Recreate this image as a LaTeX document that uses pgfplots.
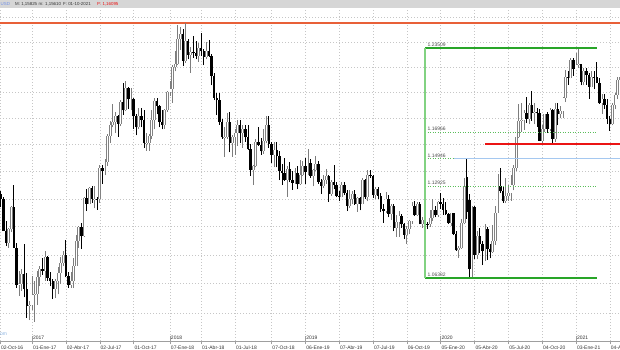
\documentclass[border=0pt]{standalone}
\usepackage{pgfplots}
\pgfplotsset{compat=1.18}
\usepackage{pgfplotstable}
\usepackage{fontspec}
\setmainfont{Liberation Sans}
\newcommand\tf{\fontsize{5}{5}\selectfont}
\newcommand\hf{\fontsize{4.4}{5}\selectfont}
\definecolor{hdr}{RGB}{214,214,214}
\definecolor{orl}{RGB}{232,96,56}
\definecolor{fibv}{RGB}{130,210,130}
\definecolor{fibg}{RGB}{40,165,40}
\definecolor{fibd}{RGB}{90,190,90}
\definecolor{lblue}{RGB}{165,200,240}
\definecolor{pred}{RGB}{235,20,20}
\definecolor{bodyup}{RGB}{130,130,130}
\definecolor{wickup}{RGB}{125,125,125}
\definecolor{wm}{RGB}{140,180,225}

\pgfplotstableread{
k o h l c
4 1.0885 1.0990 1.0850 1.0980
5 1.0980 1.1145 1.0960 1.1140
8 1.0590 1.0690 1.0518 1.0595
9 1.0595 1.0700 1.0550 1.0665
12 1.0450 1.0480 1.0352 1.0455
13 1.0455 1.0650 1.0420 1.0520
14 1.0520 1.0615 1.0340 1.0530
15 1.0530 1.0685 1.0455 1.0645
16 1.0645 1.0720 1.0580 1.0700
18 1.0690 1.0829 1.0620 1.0785
22 1.0560 1.0630 1.0500 1.0620
23 1.0620 1.0715 1.0525 1.0670
24 1.0670 1.0782 1.0600 1.0740
25 1.0740 1.0829 1.0725 1.0800
28 1.0590 1.0680 1.0570 1.0615
29 1.0615 1.0780 1.0570 1.0725
30 1.0725 1.0937 1.0720 1.0895
31 1.0895 1.1000 1.0850 1.0995
33 1.0930 1.1215 1.0925 1.1205
35 1.1165 1.1285 1.1160 1.1280
37 1.1195 1.1296 1.1130 1.1200
39 1.1195 1.1445 1.1170 1.1425
41 1.1400 1.1490 1.1370 1.1470
42 1.1470 1.1683 1.1440 1.1665
43 1.1665 1.1777 1.1612 1.1750
44 1.1750 1.1910 1.1730 1.1775
45 1.1775 1.1845 1.1688 1.1820
47 1.1760 1.1940 1.1740 1.1925
49 1.1860 1.2092 1.1855 1.2035
51 1.1945 1.2035 1.1860 1.1950
54 1.1730 1.1880 1.1715 1.1820
57 1.1610 1.1690 1.1555 1.1615
58 1.1615 1.1680 1.1555 1.1665
59 1.1665 1.1860 1.1640 1.1790
60 1.1790 1.1960 1.1715 1.1930
64 1.1750 1.1870 1.1720 1.1860
65 1.1860 1.2010 1.1850 1.2005
66 1.2005 1.2088 1.1975 1.2030
67 1.2030 1.2219 1.1916 1.2200
68 1.2200 1.2323 1.2165 1.2225
69 1.2225 1.2537 1.2215 1.2425
70 1.2425 1.2520 1.2335 1.2465
72 1.2250 1.2555 1.2235 1.2405
74 1.2295 1.2355 1.2154 1.2315
77 1.2290 1.2388 1.2240 1.2350
80 1.2280 1.2397 1.2260 1.2330
87 1.1655 1.1730 1.1510 1.1660
88 1.1660 1.1840 1.1645 1.1770
90 1.1610 1.1675 1.1509 1.1655
91 1.1655 1.1720 1.1525 1.1685
92 1.1685 1.1790 1.1590 1.1745
94 1.1685 1.1750 1.1575 1.1720
98 1.1410 1.1445 1.1301 1.1440
99 1.1440 1.1640 1.1430 1.1620
102 1.1550 1.1721 1.1530 1.1625
103 1.1625 1.1815 1.1610 1.1745
106 1.1525 1.1620 1.1430 1.1560
111 1.1335 1.1440 1.1216 1.1420
114 1.1315 1.1425 1.1310 1.1385
116 1.1305 1.1486 1.1300 1.1370
117 1.1370 1.1475 1.1365 1.1440
119 1.1395 1.1570 1.1370 1.1465
121 1.1365 1.1420 1.1290 1.1410
122 1.1410 1.1514 1.1405 1.1455
125 1.1295 1.1371 1.1275 1.1335
126 1.1335 1.1419 1.1310 1.1365
128 1.1235 1.1340 1.1220 1.1325
132 1.1215 1.1324 1.1210 1.1300
135 1.1150 1.1265 1.1135 1.1200
136 1.1200 1.1255 1.1160 1.1235
138 1.1160 1.1215 1.1105 1.1205
140 1.1165 1.1348 1.1160 1.1335
142 1.1210 1.1412 1.1181 1.1370
145 1.1225 1.1286 1.1200 1.1270
149 1.1110 1.1250 1.1100 1.1200
151 1.1090 1.1160 1.1050 1.1145
153 1.0990 1.1085 1.0926 1.1030
154 1.1030 1.1109 1.0927 1.1075
157 1.0940 1.1000 1.0879 1.0980
158 1.0980 1.1045 1.0945 1.1040
159 1.1040 1.1179 1.1020 1.1145
161 1.1080 1.1175 1.1075 1.1165
163 1.1020 1.1065 1.0989 1.1050
166 1.1015 1.1116 1.0995 1.1060
167 1.1060 1.1200 1.1040 1.1120
169 1.1080 1.1185 1.1070 1.1175
174 1.1025 1.1097 1.1005 1.1095
177 1.0830 1.0865 1.0778 1.0845
178 1.0845 1.1053 1.0840 1.1025
179 1.1025 1.1355 1.1015 1.1285
182 1.0700 1.1147 1.0635 1.1140
184 1.0800 1.0968 1.0770 1.0935
187 1.0825 1.1019 1.0755 1.0985
190 1.0820 1.1008 1.0815 1.0900
191 1.0900 1.1147 1.0870 1.1100
192 1.1100 1.1384 1.1095 1.1290
195 1.1180 1.1349 1.1168 1.1220
196 1.1220 1.1300 1.1185 1.1245
197 1.1245 1.1375 1.1185 1.1300
198 1.1300 1.1450 1.1260 1.1425
199 1.1425 1.1660 1.1400 1.1655
200 1.1655 1.1909 1.1650 1.1780
201 1.1780 1.1916 1.1696 1.1785
202 1.1785 1.1865 1.1710 1.1840
204 1.1795 1.1920 1.1755 1.1905
206 1.1840 1.1915 1.1753 1.1845
209 1.1630 1.1750 1.1612 1.1715
210 1.1715 1.1833 1.1695 1.1830
212 1.1715 1.1881 1.1700 1.1860
214 1.1645 1.1920 1.1622 1.1875
216 1.1830 1.1895 1.1800 1.1855
217 1.1855 1.1965 1.1800 1.1960
218 1.1960 1.2177 1.1925 1.2120
220 1.2115 1.2273 1.2110 1.2255
222 1.2185 1.2310 1.2180 1.2215
223 1.2215 1.2349 1.2195 1.2220
225 1.2080 1.2190 1.2055 1.2170
228 1.2045 1.2170 1.2040 1.2120
232 1.1915 1.1990 1.1835 1.1950
236 1.1760 1.1915 1.1745 1.1900
237 1.1900 1.1995 1.1870 1.1980
238 1.1980 1.2117 1.1945 1.2095
239 1.2095 1.2150 1.2055 1.2120
}\upc

\pgfplotstableread{
k o h l c
1 1.1235 1.1255 1.1137 1.1200
2 1.1200 1.1210 1.0968 1.0970
3 1.0970 1.1040 1.0860 1.0885
6 1.1140 1.1300 1.0850 1.0850
7 1.0850 1.0880 1.0570 1.0590
10 1.0665 1.0874 1.0505 1.0560
11 1.0560 1.0670 1.0366 1.0450
17 1.0700 1.0775 1.0660 1.0690
19 1.0785 1.0790 1.0620 1.0640
20 1.0640 1.0680 1.0580 1.0615
21 1.0615 1.0630 1.0494 1.0560
26 1.0800 1.0906 1.0645 1.0650
27 1.0650 1.0680 1.0570 1.0590
32 1.0995 1.1023 1.0840 1.0930
34 1.1205 1.1268 1.1110 1.1165
36 1.1280 1.1296 1.1170 1.1195
38 1.1200 1.1215 1.1120 1.1195
40 1.1425 1.1445 1.1310 1.1400
46 1.1820 1.1825 1.1660 1.1760
48 1.1925 1.2070 1.1825 1.1860
50 1.2035 1.2040 1.1870 1.1945
52 1.1950 1.1960 1.1717 1.1815
53 1.1815 1.1830 1.1669 1.1730
55 1.1820 1.1880 1.1730 1.1785
56 1.1785 1.1860 1.1575 1.1610
61 1.1930 1.1960 1.1830 1.1895
62 1.1895 1.1900 1.1730 1.1770
63 1.1770 1.1862 1.1715 1.1750
71 1.2465 1.2505 1.2206 1.2250
73 1.2405 1.2425 1.2260 1.2295
75 1.2315 1.2445 1.2270 1.2310
76 1.2310 1.2410 1.2260 1.2290
78 1.2350 1.2475 1.2285 1.2325
79 1.2325 1.2345 1.2215 1.2280
81 1.2330 1.2413 1.2280 1.2290
82 1.2290 1.2300 1.2055 1.2130
83 1.2130 1.2150 1.1940 1.1960
84 1.1960 1.1995 1.1823 1.1940
85 1.1940 1.1995 1.1750 1.1770
86 1.1770 1.1795 1.1645 1.1655
89 1.1770 1.1852 1.1541 1.1610
93 1.1745 1.1790 1.1610 1.1685
95 1.1720 1.1750 1.1620 1.1655
96 1.1655 1.1745 1.1560 1.1565
97 1.1565 1.1605 1.1365 1.1410
100 1.1620 1.1734 1.1590 1.1600
101 1.1600 1.1650 1.1525 1.1550
104 1.1745 1.1815 1.1575 1.1605
105 1.1605 1.1620 1.1463 1.1525
107 1.1560 1.1621 1.1430 1.1515
108 1.1515 1.1550 1.1336 1.1400
109 1.1400 1.1456 1.1302 1.1390
110 1.1390 1.1500 1.1330 1.1335
112 1.1420 1.1472 1.1320 1.1340
113 1.1340 1.1401 1.1267 1.1315
115 1.1385 1.1442 1.1269 1.1305
118 1.1440 1.1498 1.1309 1.1395
120 1.1465 1.1490 1.1355 1.1365
123 1.1455 1.1475 1.1310 1.1325
124 1.1325 1.1342 1.1234 1.1295
127 1.1365 1.1375 1.1176 1.1235
129 1.1325 1.1448 1.1270 1.1300
130 1.1300 1.1325 1.1210 1.1220
131 1.1220 1.1255 1.1183 1.1215
133 1.1300 1.1324 1.1225 1.1245
134 1.1245 1.1265 1.1110 1.1150
137 1.1235 1.1265 1.1155 1.1160
139 1.1205 1.1215 1.1115 1.1165
141 1.1335 1.1345 1.1200 1.1210
143 1.1370 1.1412 1.1355 1.1365
144 1.1365 1.1375 1.1205 1.1225
146 1.1270 1.1286 1.1200 1.1220
147 1.1220 1.1240 1.1101 1.1125
148 1.1125 1.1165 1.1027 1.1110
150 1.1200 1.1230 1.1065 1.1090
152 1.1145 1.1165 1.0965 1.0990
155 1.1075 1.1090 1.0990 1.1015
156 1.1015 1.1025 1.0910 1.0940
160 1.1145 1.1180 1.1075 1.1080
162 1.1165 1.1175 1.1015 1.1020
164 1.1050 1.1097 1.1000 1.1020
165 1.1020 1.1030 1.0981 1.1015
168 1.1120 1.1145 1.1065 1.1080
170 1.1175 1.1239 1.1125 1.1165
171 1.1165 1.1205 1.1085 1.1120
172 1.1120 1.1173 1.1085 1.1090
173 1.1090 1.1100 1.1018 1.1025
175 1.1095 1.1100 1.0940 1.0945
176 1.0945 1.0965 1.0827 1.0830
180 1.1360 1.1495 1.1055 1.1105
181 1.1190 1.1237 1.0636 1.0700
183 1.1140 1.1147 1.0770 1.0800
185 1.0935 1.0990 1.0812 1.0875
186 1.0875 1.0895 1.0727 1.0825
188 1.0985 1.0995 1.0766 1.0840
189 1.0840 1.0875 1.0775 1.0820
193 1.1290 1.1422 1.1240 1.1255
194 1.1255 1.1295 1.1170 1.1180
203 1.1840 1.1966 1.1765 1.1795
205 1.1905 1.2011 1.1780 1.1840
207 1.1845 1.1882 1.1737 1.1838
208 1.1840 1.1870 1.1627 1.1630
211 1.1830 1.1845 1.1689 1.1715
213 1.1860 1.1870 1.1603 1.1645
215 1.1875 1.1920 1.1745 1.1830
219 1.2120 1.2167 1.2058 1.2115
221 1.2255 1.2270 1.2130 1.2185
224 1.2220 1.2225 1.2055 1.2080
226 1.2170 1.2190 1.2060 1.2140
227 1.2140 1.2150 1.1952 1.2045
229 1.2120 1.2170 1.2023 1.2118
230 1.2118 1.2243 1.2070 1.2075
231 1.2075 1.2115 1.1910 1.1915
233 1.1950 1.1990 1.1875 1.1905
234 1.1905 1.1945 1.1760 1.1795
235 1.1795 1.1815 1.1704 1.1760
}\dnc

\pgfplotsset{
  candle/.style n args={2}{draw=none, mark=none, forget plot,
    error bars/.cd, y dir=plus, y explicit, error mark=none,
    error bar style={draw=#1, solid, line cap=butt, line width=#2}},
}

\begin{document}
\begin{tikzpicture}
\useasboundingbox (0,0) rectangle (620bp,350bp);
\fill[hdr] (0,341.5bp) rectangle (620bp,350bp);
\begin{axis}[
  at={(0,9bp)}, anchor=south west,
  scale only axis, width=620bp, height=331bp,
  xmin=0.69, xmax=238.9,
  ymode=log, ymin=1.02121, ymax=1.26591,
  separate axis lines,
  axis x line*=bottom, axis y line*=left,
  x axis line style={draw=gray!75, line width=0.5bp, -},
  y axis line style={draw=none},
  ytick={1.04,1.06,1.08,1.10,1.12,1.14,1.16,1.18,1.20,1.22,1.24,1.26},
  yticklabels={},
  ytick style={draw=none},
  ymajorgrids, xmajorgrids,
  grid style={gray!45, line width=0.4bp, dash pattern=on 1bp off 2bp},
  xtick={0.7,13,26,39,52,66,78,91,105,118,131,144,157,170,183,196,209,222,235},
  xticklabels={02-Oct-16,01-Ene-17,02-Abr-17,02-Jul-17,01-Oct-17,07-Ene-18,01-Abr-18,01-Jul-18,07-Oct-18,06-Ene-19,07-Abr-19,07-Jul-19,06-Oct-19,05-Ene-20,05-Abr-20,05-Jul-20,04-Oct-20,03-Ene-21,04-Abr-21},
  tick align=outside,
  major tick length=3.5bp,
  xtick style={draw=gray!75, line width=0.4bp},
  x tick label style={font=\tf, text=black!80, anchor=north west, inner sep=0pt, xshift=0.8bp, yshift=-1.2bp},
  extra x ticks={13,66,118,170,222},
  extra x tick labels={2017,2018,2019,2020,2021},
  extra x tick style={grid=none, tick align=inside, major tick length=5bp,
     x tick label style={anchor=south west, yshift=2bp}},
  clip mode=individual,
]
\addplot[draw=orl, mark=none, line width=1.4bp, forget plot] coordinates {(0.69,1.2552) (238.9,1.2552)};
% candles: wicks
\addplot[candle={wickup}{0.8bp}] table[x=k, y=l, y error expr=\thisrow{h}-\thisrow{l}] {\upc};
\addplot[candle={black}{0.8bp}] table[x=k, y=l, y error expr=\thisrow{h}-\thisrow{l}] {\dnc};
% bodies
\addplot[candle={bodyup}{2.8bp}] table[x=k, y=o, y error expr=\thisrow{c}-\thisrow{o}] {\upc};
\addplot[candle={white}{1.1bp}] table[x=k, y=o, y error expr=\thisrow{c}-\thisrow{o}] {\upc};
\addplot[candle={black}{2.4bp}] table[x=k, y=c, y error expr=\thisrow{o}-\thisrow{c}] {\dnc};
% Fibonacci retracement
\addplot[draw=fibd, mark=none, line width=0.7bp, dash pattern=on 1bp off 1.5bp, forget plot] coordinates {(164,1.16966) (229.8,1.16966)};
\addplot[draw=fibd, mark=none, line width=0.7bp, dash pattern=on 1bp off 1.5bp, forget plot] coordinates {(164,1.14946) (229.8,1.14946)};
\addplot[draw=fibd, mark=none, line width=0.7bp, dash pattern=on 1bp off 1.5bp, forget plot] coordinates {(164,1.12925) (229.8,1.12925)};
\addplot[draw=fibg, mark=none, line width=1.4bp, forget plot] coordinates {(164,1.23509) (230.2,1.23509)};
\addplot[draw=fibg, mark=none, line width=1.4bp, forget plot] coordinates {(164,1.06382) (230.2,1.06382)};
\addplot[draw=fibv, mark=none, line width=2bp, forget plot] coordinates {(164,1.06382) (164,1.23509)};
% support / price lines
\addplot[draw=lblue, mark=none, line width=1.6bp, forget plot] coordinates {(175.1,1.1495) (238.9,1.1495)};
\addplot[draw=pred, mark=none, line width=2bp, forget plot] coordinates {(187.1,1.1606) (238.9,1.1606)};
% labels of levels
\node[anchor=south west, font=\tf, text=black!70, inner sep=0pt, yshift=1bp] at (axis cs:164.9,1.23509) {1.23509};
\node[anchor=south west, font=\tf, text=black!70, inner sep=0pt, yshift=1bp] at (axis cs:164.9,1.16966) {1.16966};
\node[anchor=south west, font=\tf, text=black!70, inner sep=0pt, yshift=1bp] at (axis cs:164.9,1.14946) {1.14946};
\node[anchor=south west, font=\tf, text=black!70, inner sep=0pt, yshift=1bp] at (axis cs:164.9,1.12925) {1.12925};
\node[anchor=south west, font=\tf, text=black!70, inner sep=0pt, yshift=1bp] at (axis cs:164.9,1.06382) {1.06382};
\end{axis}
\node[anchor=west, font=\hf, text=wm!80!blue, inner sep=0pt] at (0.5bp,345.8bp) {USD};
\node[anchor=west, font=\hf, text=black!80, inner sep=0pt] at (15bp,345.8bp) {M: 1,15825};
\node[anchor=west, font=\hf, text=black!80, inner sep=0pt] at (38.5bp,345.8bp) {m: 1,15610};
\node[anchor=west, font=\hf, text=black!80, inner sep=0pt] at (63bp,345.8bp) {F: 01-10-2021};
\node[anchor=west, font=\hf, text=pred, inner sep=0pt] at (97bp,345.8bp) {P: 1,16095};
\node[anchor=west, font=\tf, text=wm, inner sep=0pt] at (0bp,16bp) {om};
\end{tikzpicture}
\end{document}
